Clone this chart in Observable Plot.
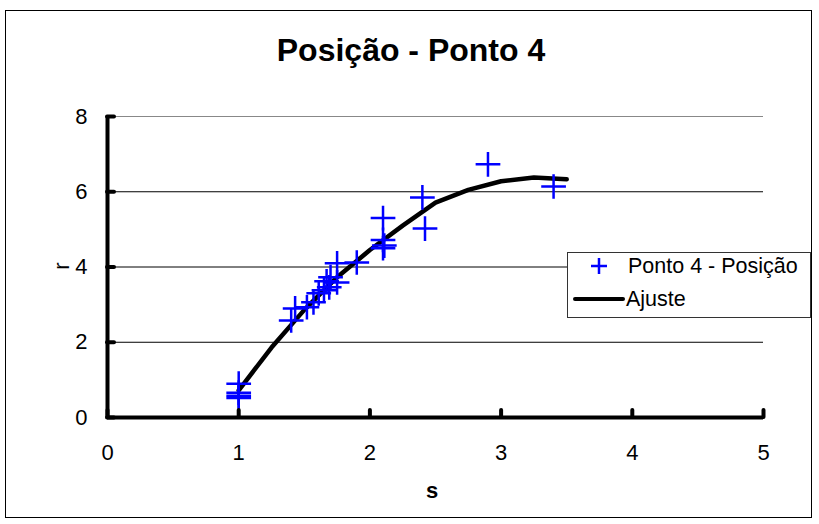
<!DOCTYPE html>
<html><head><meta charset="utf-8">
<script src="https://cdn.jsdelivr.net/npm/d3@7"></script>
<script src="https://cdn.jsdelivr.net/npm/@observablehq/plot@0.6"></script>
<style>
body{margin:0;background:#fff;font-family:"Liberation Sans",Arial,sans-serif;}
#wrap{position:relative;width:819px;height:524px;overflow:hidden;}
#frame{position:absolute;left:5px;top:10px;width:807px;height:508px;border:1px solid #000;box-sizing:border-box;}
#title{position:absolute;left:0;width:822px;top:31px;line-height:38px;text-align:center;font-weight:bold;font-size:32px;color:#000;}
#plot{position:absolute;left:0;top:0;}
#plot svg [aria-label$="tick label"]{font-size:22px !important;}
#plot svg [aria-label$="tick label"] text{font-size:22px !important;}
#xlabel{position:absolute;left:0;width:864px;text-align:center;top:478px;line-height:26px;font-weight:bold;font-size:22px;}
#ylabel{position:absolute;left:58px;top:253px;line-height:26px;font-size:22px;transform:rotate(-90deg);transform-origin:center;}
#legend{position:absolute;left:567px;top:252px;width:244px;height:66px;background:#fff;border:1px solid #333;box-sizing:border-box;font-size:21.5px;}
.lrow{position:absolute;left:0;height:26px;line-height:26px;}
</style></head>
<body>
<div id="wrap">
  <div id="frame"></div>
  <div id="plot"></div>
  <div id="title">Posição - Ponto 4</div>
  <div id="xlabel">s</div>
  <div id="ylabel">r</div>
  <div id="legend">
    <div class="lrow" style="top:0px;left:0">
      <svg width="60" height="26" style="position:absolute;left:0;top:0"><path d="M23,13H39M31,5V21" stroke="#0000ff" stroke-width="2.5"/></svg>
      <span style="position:absolute;left:60px;white-space:nowrap">Ponto 4 - Posição</span>
    </div>
    <div class="lrow" style="top:33px;left:0">
      <svg width="60" height="26" style="position:absolute;left:0;top:0"><path d="M7,13H55" stroke="#000" stroke-width="4" stroke-linecap="round"/></svg>
      <span style="position:absolute;left:58px;white-space:nowrap">Ajuste</span>
    </div>
  </div>
</div>
<script>
// Measured points (Ponto 4 - Posição)
const sPts = [1.0, 1.0, 1.0, 1.0, 1.40, 1.43, 1.52, 1.57, 1.61, 1.65, 1.69, 1.67, 1.70, 1.75, 1.75, 1.90, 2.10, 2.10, 2.11, 2.10, 2.40, 2.42, 2.90, 3.40];
const rPts = [0.90, 0.66, 0.58, 0.52, 2.58, 2.90, 2.93, 3.06, 3.30, 3.38, 3.46, 3.62, 3.73, 3.59, 4.10, 4.12, 5.30, 4.72, 4.57, 4.50, 5.85, 5.02, 6.73, 6.14];
// Fit curve (Ajuste)
const sFit = [1.0, 1.25, 1.5, 1.75, 2.0, 2.25, 2.5, 2.75, 3.0, 3.25, 3.5];
const rFit = [0.72, 1.86, 2.86, 3.73, 4.45, 5.10, 5.71, 6.05, 6.28, 6.38, 6.33];
// Ticks
const xTicks = [0, 1, 2, 3, 4, 5];
const yTicks = [0, 2, 4, 6, 8];
const yGrid = [2, 4, 6];

const pts = sPts.map((s, i) => ({s, r: rPts[i]}));
const fit = sFit.map((s, i) => ({s, r: rFit[i]}));

const chart = Plot.plot({
  width: 819, height: 524,
  marginLeft: 107, marginRight: 56, marginTop: 116, marginBottom: 107,
  style: {background: "transparent", fontFamily: "Liberation Sans, Arial, sans-serif", fontSize: "22px", color: "#000", overflow: "visible"},
  x: {domain: [0, 5], label: null},
  y: {domain: [0, 8], label: null},
  marks: [
    Plot.ruleY(yGrid, {stroke: "#000", strokeWidth: 1}),
    Plot.ruleY([8], {stroke: "#888", strokeWidth: 1}),
    Plot.line(fit, {x: "s", y: "r", stroke: "#000", strokeWidth: 4.5, strokeLinejoin: "round", strokeLinecap: "round"}),
    Plot.dot(pts, {x: "s", y: "r", symbol: "plus", r: 8, stroke: "#0000ff", strokeWidth: 2.5}),
    Plot.ruleX(xTicks, {stroke: "#000", strokeWidth: 4, insetTop: 294, strokeLinecap: "round"}),
    Plot.ruleY(yTicks, {stroke: "#000", strokeWidth: 4, insetRight: 649, strokeLinecap: "round"}),
    Plot.ruleY([0], {stroke: "#000", strokeWidth: 4}),
    Plot.ruleX([0], {stroke: "#000", strokeWidth: 4}),
    Plot.axisX(xTicks, {tickSize: 0, tickPadding: 27, fontSize: 22, tickFormat: d => String(d)}),
    Plot.axisY(yTicks, {tickSize: 0, tickPadding: 20, fontSize: 22, tickFormat: d => String(d)})
  ]
});
document.getElementById("plot").appendChild(chart);
</script>
</body></html>
